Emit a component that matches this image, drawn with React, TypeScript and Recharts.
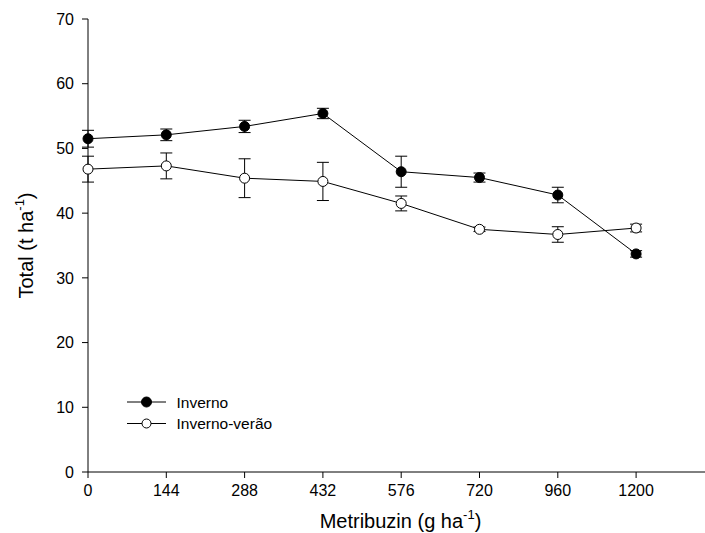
import { LineChart, Line, XAxis, YAxis, ErrorBar, Label } from "recharts";

const doses = ["0", "144", "288", "432", "576", "720", "960", "1200"];
const inverno = [51.5, 52.1, 53.4, 55.4, 46.4, 45.5, 42.8, 33.7];
const invernoErr = [1.3, 0.9, 0.95, 0.8, 2.4, 0.7, 1.2, 0.5];
const invernoVerao = [46.8, 47.3, 45.4, 44.9, 41.5, 37.5, 36.7, 37.7];
const invernoVeraoErr = [2.0, 2.0, 3.0, 2.95, 1.15, 0.35, 1.2, 0.6];
const yTicks = [0, 10, 20, 30, 40, 50, 60, 70];
const xTicks = doses.map((_, i) => i);

const data = doses.map((d, i) => ({
  idx: i,
  inverno: inverno[i],
  invernoErr: invernoErr[i],
  invernoVerao: invernoVerao[i],
  invernoVeraoErr: invernoVeraoErr[i],
}));

const FONT = "'Liberation Sans', Arial, sans-serif";
const tickStyle = { fontSize: 16, fill: "#000", fontFamily: FONT };

function XTitle(props: any) {
  const vb = props.viewBox;
  const cx = vb.x + vb.width / 2 + 4;
  return (
    <text x={cx} y={528} textAnchor="middle" fontSize={20} fontFamily={FONT} fill="#000">
      Metribuzin (g ha
      <tspan dy={-9} fontSize={13}>-1</tspan>
      <tspan dy={9}>)</tspan>
    </text>
  );
}

function YTitle(props: any) {
  const vb = props.viewBox;
  const cx = 33;
  const cy = vb.y + vb.height / 2;
  return (
    <text
      x={cx}
      y={cy}
      textAnchor="middle"
      fontSize={20}
      fontFamily={FONT}
      fill="#000"
      transform={`rotate(-90 ${cx} ${cy})`}
    >
      Total (t ha
      <tspan dy={-9} fontSize={13}>-1</tspan>
      <tspan dy={9}>)</tspan>
    </text>
  );
}

function LegendOverlay() {
  const rows = [
    { name: "Inverno", fill: "#000" },
    { name: "Inverno-verão", fill: "#fff" },
  ];
  return (
    <svg width={240} height={60} style={{ position: "absolute", left: 120, top: 388 }}>
      {rows.map((r, i) => {
        const y = 14 + i * 21.5;
        return (
          <g key={r.name}>
            <line x1={7} x2={46} y1={y} y2={y} stroke="#000" strokeWidth={1} />
            <circle cx={26.5} cy={y} r={i === 0 ? 5 : 4.5} fill={r.fill} stroke="#000" strokeWidth={1} />
            <text x={56.5} y={y + 5.5} fontSize={15.5} fontFamily={FONT} fill="#000">
              {r.name}
            </text>
          </g>
        );
      })}
    </svg>
  );
}

export default function App() {
  return (
    <div style={{ position: "absolute", left: 0, top: 0, width: 705, height: 533, background: "#fff" }}>
      <LineChart
        width={705}
        height={533}
        data={data}
        margin={{ top: 19, right: 0, left: 0, bottom: 0 }}
      >
        <XAxis
          type="number"
          dataKey="idx"
          domain={[0, 7.88]}
          ticks={xTicks}
          tickFormatter={(v: number) => doses[v] ?? ""}
          tick={tickStyle}
          tickSize={6}
          tickMargin={7}
          height={61}
          stroke="#000"
          tickLine={{ stroke: "#000" }}
          axisLine={{ stroke: "#000" }}
        >
          <Label content={XTitle} />
        </XAxis>
        <YAxis
          type="number"
          domain={[0, 70]}
          ticks={yTicks}
          tick={tickStyle}
          tickSize={6}
          tickMargin={8}
          width={88}
          stroke="#000"
          tickLine={{ stroke: "#000" }}
          axisLine={{ stroke: "#000" }}
        >
          <Label content={YTitle} />
        </YAxis>
        <Line
          dataKey="inverno"
          stroke="#000"
          strokeWidth={1}
          isAnimationActive={false}
          dot={{ r: 5, fill: "#000", stroke: "#000", strokeWidth: 1 }}
          activeDot={false}
        >
          <ErrorBar dataKey="invernoErr" direction="y" width={6} stroke="#000" strokeWidth={1} />
        </Line>
        <Line
          dataKey="invernoVerao"
          stroke="#000"
          strokeWidth={1}
          isAnimationActive={false}
          dot={{ r: 5, fill: "#fff", stroke: "#000", strokeWidth: 1 }}
          activeDot={false}
        >
          <ErrorBar dataKey="invernoVeraoErr" direction="y" width={6} stroke="#000" strokeWidth={1} />
        </Line>
      </LineChart>
      <LegendOverlay />
    </div>
  );
}
